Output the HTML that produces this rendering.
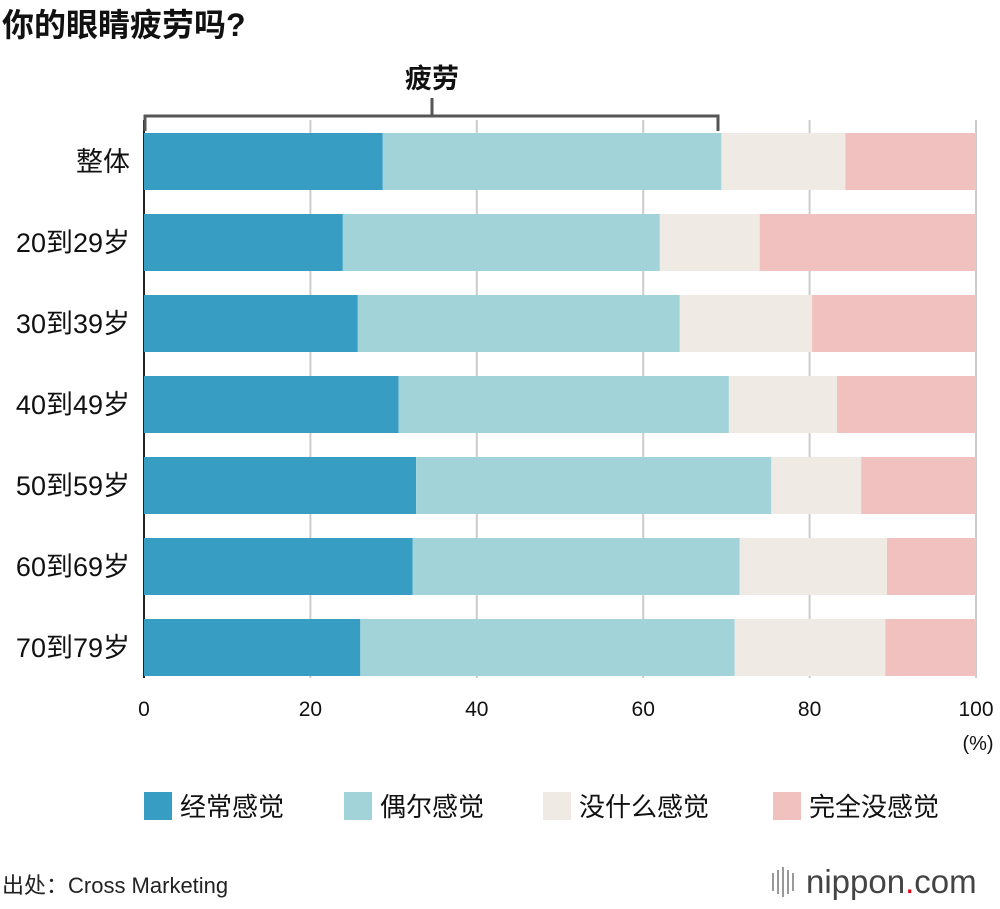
<!DOCTYPE html>
<html><head><meta charset="utf-8"><style>
body{margin:0;background:#fff;width:1000px;height:904px;overflow:hidden;font-family:"Liberation Sans","Noto Sans CJK SC",sans-serif;}
</style></head><body>
<svg id="c" width="1000" height="904" xmlns="http://www.w3.org/2000/svg" style="font-family:'Liberation Sans','Noto Sans CJK SC',sans-serif">
<text x="2" y="36" font-size="32" font-weight="bold" fill="#111">你的眼睛疲劳吗?</text>
<g id="grid"></g>
<g id="bars"></g>
<g fill="none" stroke="#555" stroke-width="3">
<path d="M145,131 V116 H718 V131"/><path d="M432,116 V98"/>
</g>
<text x="432" y="88" font-size="27" font-weight="bold" text-anchor="middle" fill="#111">疲劳</text>
<g id="ticks"></g>
<text x="978" y="750" font-size="20" text-anchor="middle" fill="#111">(%)</text>
<g id="legend"></g>
<text x="2" y="893" font-size="22" fill="#222">出处：Cross Marketing</text>
<g>
<rect x="772" y="873" width="2" height="18" fill="#999"/><rect x="777" y="870" width="2" height="24" fill="#999"/><rect x="782" y="867" width="2" height="30" fill="#999"/><rect x="787" y="870" width="2" height="24" fill="#999"/><rect x="792" y="873" width="2" height="18" fill="#999"/>
<text x="806" y="893" font-size="33" fill="#444">nippon<tspan fill="#e60012">.</tspan>com</text>
</g>
</svg>
<script>
const categories=["整体","20到29岁","30到39岁","40到49岁","50到59岁","60到69岁","70到79岁"];
const often=[28.7,23.9,25.7,30.6,32.7,32.3,26.0];
const sometimes=[40.7,38.1,38.7,39.7,42.7,39.3,45.0];
const rarely=[14.9,12.0,15.9,13.0,10.8,17.7,18.1];
const never=[15.7,26.0,19.7,16.7,13.8,10.7,10.9];
const seriesNames=["经常感觉","偶尔感觉","没什么感觉","完全没感觉"];
const ticks=[0,20,40,60,80,100];
const colors=["#379dc3","#a2d3d9","#efebe4","#f0c1bf"];
const series=[often,sometimes,rarely,never];
const NS="http://www.w3.org/2000/svg";
const x=v=>144+v*8.32;
const y=i=>133+i*81;
function mk(t,a,p){const e=document.createElementNS(NS,t);for(const k in a)e.setAttribute(k,a[k]);p.appendChild(e);return e;}
const grid=document.getElementById('grid'),bars=document.getElementById('bars'),tk=document.getElementById('ticks'),lg=document.getElementById('legend');
ticks.forEach(t=>{
 const l=mk('line',{x1:x(t),x2:x(t),y1:120,y2:678,stroke:t===0?'#222':'#ccc','stroke-width':2},grid);
 
 
 const tx=mk('text',{x:x(t),y:716,'font-size':21,'text-anchor':'middle',fill:'#111'},tk);tx.textContent=t;
 
 
});
categories.forEach((c,i)=>{
 let cum=0;
 series.forEach((s,j)=>{
  const r=mk('rect',{x:x(cum),y:y(i),width:x(cum+s[i])-x(cum),height:57,fill:colors[j]},bars);
  
  
  cum+=s[i];
 });
 const t=mk('text',{x:130,y:y(i)+38,'font-size':27,'text-anchor':'end',fill:'#111'},bars);t.textContent=c;
 
 
});
const lx=[144,344,543,773];
seriesNames.forEach((n,j)=>{
 const r=mk('rect',{x:lx[j],y:792,width:28,height:28,fill:colors[j]},lg);
 
 
 const t=mk('text',{x:lx[j]+36,y:816,'font-size':26,fill:'#111'},lg);t.textContent=n;
 
 
});
</script>
</body></html>
